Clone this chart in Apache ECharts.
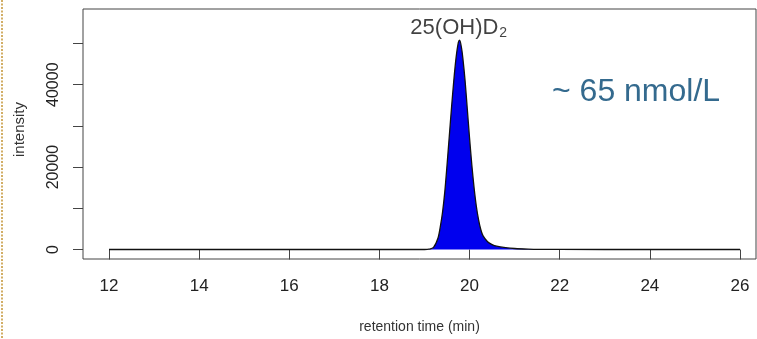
<!DOCTYPE html>
<html>
<head>
<meta charset="utf-8">
<script src="https://cdn.jsdelivr.net/npm/echarts@6/dist/echarts.min.js"></script>
<style>
html,body{margin:0;padding:0;background:#fff;}
#chart{width:757px;height:339px;}
</style>
</head>
<body>
<div id="chart"></div>
<script>
// retention time (min)
const retentionTime = [12, 14, 16, 18, 18.6, 19.0, 19.1, 19.2, 19.3, 19.35, 19.4, 19.45, 19.5, 19.55, 19.6, 19.65, 19.7, 19.75, 19.78, 19.82, 19.85, 19.9, 19.95, 20.0, 20.05, 20.1, 20.15, 20.2, 20.25, 20.3, 20.4, 20.5, 20.6, 20.8, 21.0, 21.3, 21.6, 22.0, 24, 26];
// intensity
const intensity = [0, 0, 0, 0, 0, 0, 80, 500, 2800, 5500, 9000, 14000, 20500, 27500, 34500, 41000, 46500, 50200, 50800, 49000, 46500, 41000, 34000, 27000, 20500, 15000, 10500, 7200, 4800, 3300, 1900, 1200, 800, 450, 250, 120, 60, 20, 0, 0];
const xTicks = [12, 14, 16, 18, 20, 22, 24, 26];
const yTicks = [0, 10000, 20000, 30000, 40000, 50000];
const yLabels = [0, 20000, 40000];
const peakName = '25(OH)D';
const peakSub = '2';
const peakPos = [19.76, 50800];
const concText = '~ 65 nmol/L';

const data = retentionTime.map((t, i) => [t, intensity[i]]);
const FONT = 'Liberation Sans, Arial, sans-serif';

const chart = echarts.init(document.getElementById('chart'));
chart.setOption({
  animation: false,
  backgroundColor: '#fff',
  grid: { left: 83, right: 1, top: 9, bottom: 79, show: true, borderColor: '#444', borderWidth: 1 },
  xAxis: {
    type: 'value', min: 11.423, max: 26.355,
    axisLine: { show: false },
    splitLine: { show: false },
    axisTick: { show: true, customValues: xTicks, length: 10, lineStyle: { color: '#444' } },
    axisLabel: { customValues: xTicks, fontFamily: FONT, fontSize: 17, color: '#222', margin: 19 },
    name: 'retention time (min)', nameLocation: 'middle', nameGap: 61,
    nameTextStyle: { fontFamily: FONT, fontSize: 14, color: '#333' }
  },
  yAxis: {
    type: 'value', min: -2300, max: 58370,
    axisLine: { show: false },
    splitLine: { show: false },
    axisTick: { show: true, customValues: yTicks, length: 10, lineStyle: { color: '#444' } },
    axisLabel: { customValues: yLabels, rotate: 90, fontFamily: FONT, fontSize: 16, color: '#222', margin: 21,
      formatter: v => String(v) },
    name: 'intensity', nameLocation: 'middle', nameGap: 56, nameRotate: 90,
    nameTextStyle: { fontFamily: FONT, fontSize: 15, color: '#333', padding: [0, 0, 0, 9] }
  },
  series: [
    {
      type: 'line', data: data, symbol: 'none', smooth: 0.3,
      lineStyle: { color: '#111', width: 1.3 },
      areaStyle: { color: '#0000ee', opacity: 1, origin: 0 },
      z: 3
    },
    {
      type: 'scatter', data: [peakPos], symbolSize: 0,
      label: {
        show: true, position: 'top', distance: 0,
        formatter: '{a|' + peakName + '}{b|' + peakSub + '}',
        rich: {
          a: { fontFamily: FONT, fontSize: 22, color: '#111' },
          b: { fontFamily: FONT, fontSize: 14, color: '#111', padding: [11, 0, 0, 1] }
        }
      },
      z: 4
    }
  ],
  graphic: [
    { type: 'line', shape: { x1: 2, y1: 0, x2: 2, y2: 339 }, style: { stroke: '#d2ae66', lineWidth: 2, lineDash: [2, 1.5] } },
    { type: 'text', left: 552, top: 76, style: { text: concText, fontFamily: FONT, fontSize: 32, fill: '#346a8e' } }
  ]
});
</script>
</body>
</html>
